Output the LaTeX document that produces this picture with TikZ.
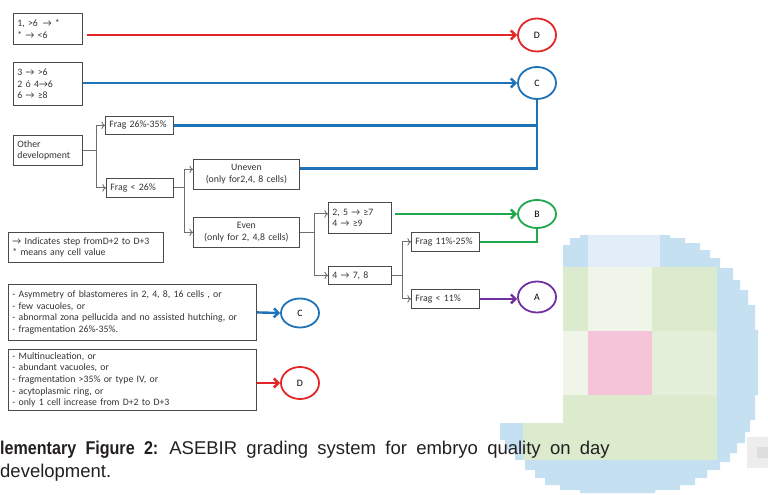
\documentclass[tikz,border=0pt]{standalone}
\usepackage{fontspec}
\setmainfont{Carlito}
\newfontfamily\capfont{Liberation Sans}
\newfontfamily\capbold[FakeStretch=0.87]{Liberation Sans Bold}
\usetikzlibrary{positioning,shapes.geometric,arrows.meta}

\definecolor{gradeD}{HTML}{E42626}
\definecolor{gradeC}{HTML}{1E72B8}
\definecolor{gradeB}{HTML}{1FA84C}
\definecolor{gradeA}{HTML}{7030A0}
\definecolor{frame}{HTML}{4A4A4A}
\definecolor{ink}{HTML}{333333}
\definecolor{wire}{HTML}{6E6E6E}
\definecolor{logoblue}{HTML}{C5E0F1}
\definecolor{logosky}{HTML}{E2EDF7}
\definecolor{logogreen}{HTML}{DCEBCD}
\definecolor{logopale}{HTML}{EFF5E8}
\definecolor{logomint}{HTML}{E3EFD9}
\definecolor{logopink}{HTML}{F6C4D8}
\definecolor{captext}{HTML}{231F20}

\begin{document}
\begin{tikzpicture}[
        x=1pt, y=-1pt,
        font=\fontsize{9.8}{11.6}\selectfont,
        text=ink,
        box/.style={draw=frame, line width=0.8pt, anchor=north west,
            inner xsep=4pt, inner ysep=0pt, align=left},
        cbox/.style={box, align=center},
        grade/.style={ellipse, draw=#1, line width=1.8pt, inner sep=0pt,
            minimum width=38pt, minimum height=32pt, text=black},
        wire/.style={draw=wire, line width=0.9pt, ->},
        route/.style={draw=#1, line width=2.4pt,
            >={Straight Barb[length=4.5pt,width=9pt]}}]

    \useasboundingbox (0,0) rectangle (768,495);

    % LOGO (pixelated, sits behind the caption)
    \fill[logoblue] (563,245) -- (570,245) -- (570,238) -- (580,238) -- (580,235)
        -- (670,235) -- (670,238) -- (685,238) -- (685,243) -- (700,243)
        -- (700,250) -- (710,250) -- (710,258) -- (720,258) -- (720,268)
        -- (733,268) -- (733,280) -- (740,280) -- (740,290) -- (748,290)
        -- (748,305) -- (755,305) -- (755,330) -- (758,330) -- (758,395)
        -- (755,395) -- (755,420) -- (750,420) -- (750,432) -- (745,432)
        -- (745,443) -- (737,443) -- (737,453) -- (730,453) -- (730,462)
        -- (720,462) -- (720,470) -- (707,470) -- (707,478) -- (695,478)
        -- (695,485) -- (680,485) -- (680,490) -- (655,490) -- (655,493)
        -- (580,493) -- (580,490) -- (560,490) -- (560,485) -- (545,485)
        -- (545,478) -- (535,478) -- (535,470) -- (525,470) -- (525,460)
        -- (515,460) -- (515,450) -- (505,450) -- (505,440) -- (500,440)
        -- (500,423) -- (563,423) -- cycle;
    \fill[logosky] (588,235) rectangle (660,267);
    \fill[logogreen] (563,267) rectangle (717,460);
    \fill[logogreen] (523,423) rectangle (563,460);
    \fill[logopale] (588,267) rectangle (652,331);
    \fill[logopale] (563,331) rectangle (588,395);
    \fill[logomint] (652,331) rectangle (717,395);
    \fill[logopink] (588,331) rectangle (652,395);
    \fill[black!7] (747,437) rectangle (768,468);
    \fill[black!13] (757,447) rectangle (768,458);

    % NODES
    % day 2 -> day 3 cell counts
    \node[box, text width=61pt, minimum height=31pt] (rowD) at (13,13)
        {1, >6 \,→ *\\{}* → <6};
    \node[box, text width=61pt, minimum height=43pt] (rowC) at (13,62)
        {3 → >6\\2 ó 4→6\\6 → ≥8};
    \node[box, text width=61pt, minimum height=30pt] (other) at (13,135)
        {Other\\development};
    % fragmentation
    \node[box, text width=60pt, minimum height=18pt] (fragHigh) at (105,116)
        {Frag 26\%-35\%};
    \node[box, text width=59pt, minimum height=19pt] (fragMid) at (106,178)
        {Frag < 26\%};
    % blastomere size
    \node[cbox, text width=98pt, minimum height=30pt] (uneven) at (193,159)
        {Uneven\\(only for2,4, 8 cells)};
    \node[cbox, text width=98pt, minimum height=30pt] (even) at (193,217)
        {Even\\(only for 2, 4,8 cells)};
    % cell increase
    \node[box, text width=55pt, minimum height=31pt] (cellsUp) at (328,202)
        {2, 5 → ≥7\\4 → ≥9};
    \node[box, text width=55pt, minimum height=18pt] (cellsSeven) at (328,266)
        {4 → 7, 8};
    \node[box, text width=60pt, minimum height=19pt] (fragLow) at (411,232)
        {Frag 11\%-25\%};
    \node[box, text width=60pt, minimum height=19pt] (fragMin) at (411,289)
        {Frag < 11\%};
    % legend
    \node[box, text width=147pt, minimum height=30pt] (legend) at (8,232)
        {→ Indicates step fromD+2 to D+3\\{}* means any cell value};
    % extra criteria
    \node[box, text width=240pt, minimum height=56pt] (critC) at (8,284)
        {- Asymmetry of blastomeres in 2, 4, 8, 16 cells , or\\
         - few vacuoles, or\\
         - abnormal zona pellucida and no assisted hutching, or\\
         - fragmentation 26\%-35\%.};
    \node[box, text width=240pt, minimum height=61pt] (critD) at (8,349)
        {- Multinucleation, or\\
         - abundant vacuoles, or\\
         - fragmentation >35\% or type IV, or\\
         - acytoplasmic ring, or\\
         - only 1 cell increase from D+2 to D+3};
    % grades
    \node[grade=gradeD, minimum height=33pt] (D) at (537,35) {D};
    \node[grade=gradeC] (C) at (537,83) {C};
    \node[grade=gradeB, minimum height=28pt] (B) at (537,214) {B};
    \node[grade=gradeA, minimum height=31pt] (A) at (537,297) {A};
    \node[grade=gradeC, minimum height=29pt] (C2) at (300,313) {C};
    \node[grade=gradeD] (D2) at (300,383) {D};

    % ARROWS
    % splits
    \draw[wire] (other.east) -- ++(14,0) coordinate (s1) |- (fragHigh.west);
    \draw[wire] (s1) |- (fragMid.west);
    \draw[wire] (fragMid.east) -- ++(11,0) coordinate (s2) |- ([yshift=5pt]uneven.west);
    \draw[wire] (s2) |- (even.west);
    \draw[wire] (even.east) -- ++(15,0) coordinate (s3) |- ([yshift=4pt]cellsUp.west);
    \draw[wire] (s3) |- (cellsSeven.west);
    \draw[wire] (cellsSeven.east) -- ++(11,0) coordinate (s4) |- (fragLow.west);
    \draw[wire] (s4) |- (fragMin.west);

    % grade lines
    \draw[route=gradeD, ->] (rowD.east |- D.west) ++(4,0) -- (D.west);
    \draw[route=gradeC, ->] (rowC.east |- C.west) -- (C.west);
    \draw[route=gradeC] (fragHigh.east) -| (C.south);
    \draw[route=gradeC] ([yshift=6pt]uneven.east) -| (C.south);
    \draw[route=gradeB, ->] (cellsUp.east |- B.west) ++(3,0) -- (B.west);
    \draw[route=gradeB] (fragLow.east) -| (B.south);
    \draw[route=gradeA, ->] (fragMin.east) -- (fragMin.east -| A.west);
    \draw[route=gradeC, ->] (critC.east) -- (C2.west);
    \draw[route=gradeD, ->] (critD.east |- D2.west) -- (D2.west);

    % CAPTION
    \node[anchor=base west, inner sep=0pt, text=captext,
        font=\capfont\fontsize{18.5}{23}\selectfont] (cap1) at (0,454)
        {\spaceskip=9.3pt{\capbold lementary Figure 2:} ASEBIR grading system for embryo quality on day};
    \node[anchor=base west, inner sep=0pt, text=captext,
        font=\capfont\fontsize{18.5}{23}\selectfont] (cap2) at (0,477)
        {development.};
\end{tikzpicture}
\end{document}
